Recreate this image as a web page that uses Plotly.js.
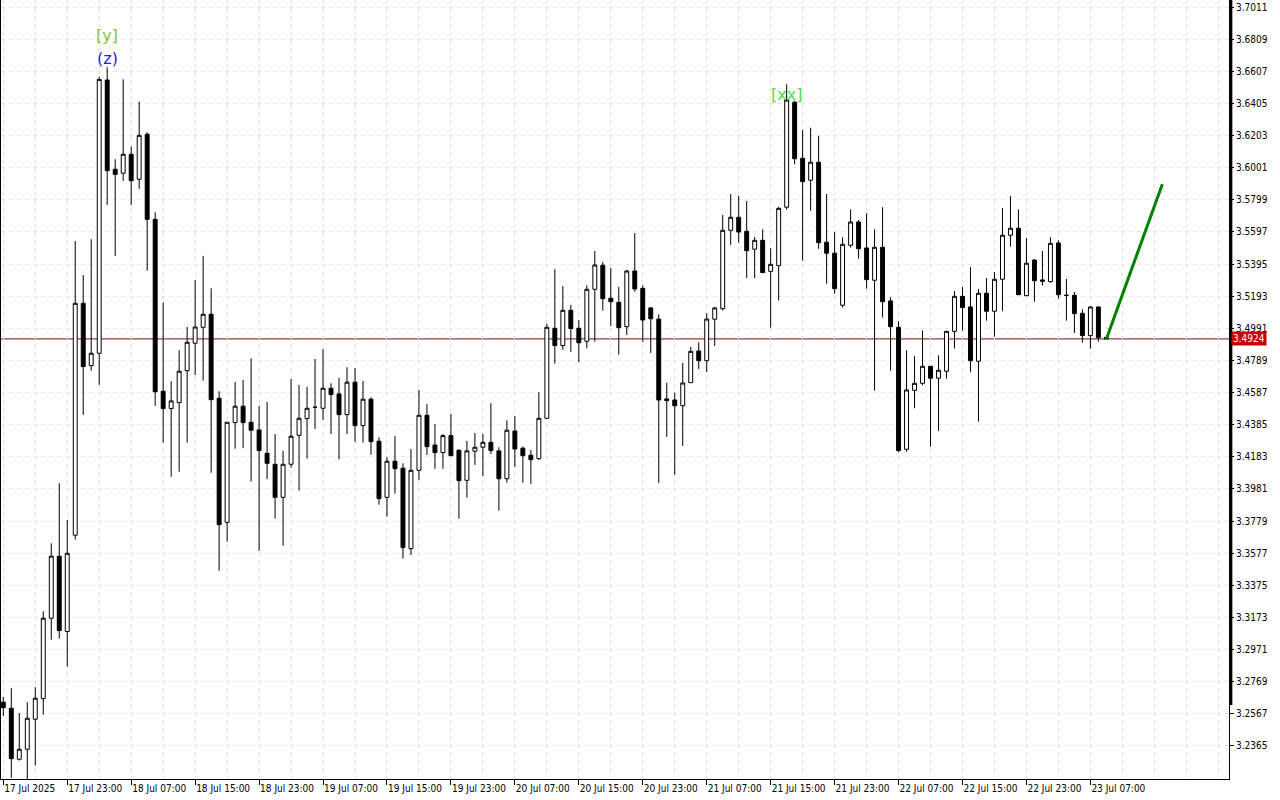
<!DOCTYPE html>
<html>
<head>
<meta charset="utf-8">
<script src="https://cdn.plot.ly/plotly-3.0.1.min.js"></script>
<style>
html,body{margin:0;padding:0;background:#fff;}
#chart{width:1280px;height:800px;}
</style>
</head>
<body>
<div id="chart"></div>
<script>
// Hourly candles starting 17 Jul 2025 15:00
const startTime = '2025-07-17T15:00:00Z';

const opens = [3.2640,3.2602,3.2281,3.2344,3.2533,3.2662,3.3168,3.3558,3.3084,3.3690,
3.5148,3.4756,3.4834,3.6552,3.5991,3.5966,3.6085,3.5928,3.6211,3.5676,
3.4595,3.4486,3.4523,3.4724,3.4897,3.4997,3.5079,3.4551,3.3771,3.4398,
3.4501,3.4400,3.4352,3.4205,3.4136,3.3928,3.4136,3.4318,3.4423,3.4494,
3.4488,3.4614,3.4578,3.4448,3.4652,3.4379,3.4545,3.4281,3.3928,3.4155,
3.4111,3.3605,3.4098,3.4444,3.4257,3.4209,3.4316,3.4224,3.4035,3.4218,
3.4243,3.4274,3.4220,3.4045,3.4345,3.4237,3.4193,3.4171,3.4425,3.4991,
3.4882,3.5104,3.4991,3.4909,3.5236,3.5387,3.5180,3.5154,3.5001,3.5351,
3.5242,3.5119,3.5049,3.4547,3.4540,3.4504,3.4649,3.4848,3.4787,3.5048,
3.5114,3.5607,3.5689,3.5601,3.5488,3.5544,3.5349,3.5385,3.5752,3.6412,
3.6060,3.5922,3.6035,3.5532,3.5463,3.5136,3.5513,3.5659,3.5496,3.5293,
3.5500,3.5163,3.4997,3.4230,3.4601,3.4645,3.4752,3.4677,3.4721,3.4972,
3.5192,3.5125,3.4784,3.5211,3.5098,3.5299,3.5576,3.5620,3.5196,3.5420,
3.5295,3.5284,3.5527,3.5198,3.5198,3.5085,3.4945,3.5125,3.4934];

const highs = [3.2673,3.2728,3.2571,3.2640,3.2734,3.3212,3.3639,3.4017,3.3786,3.5540,
3.5326,3.5551,3.6573,3.6632,3.6054,3.6556,3.6133,3.6416,3.6223,3.5720,
3.5154,3.4658,3.4853,3.4999,3.5295,3.5446,3.5242,3.4595,3.4400,3.4653,
3.4666,3.4802,3.4503,3.4528,3.4326,3.4220,3.4672,3.4635,3.4622,3.4798,
3.4861,3.4645,3.4679,3.4746,3.4741,3.4660,3.4557,3.4306,3.4180,3.4314,
3.4142,3.4232,3.4603,3.4515,3.4389,3.4325,3.4452,3.4230,3.4282,3.4333,
3.4326,3.4520,3.4243,3.4413,3.4440,3.4247,3.4226,3.4589,3.5018,3.5362,
3.5257,3.5138,3.5043,3.5261,3.5477,3.5408,3.5370,3.5251,3.5358,3.5590,
3.5261,3.5125,3.5079,3.4649,3.4586,3.4773,3.4873,3.4903,3.5085,3.5125,
3.5703,3.5835,3.5823,3.5791,3.5565,3.5613,3.5494,3.5754,3.6525,3.6420,
3.6238,3.6252,3.6200,3.5835,3.5596,3.5563,3.5739,3.5672,3.5714,3.5613,
3.5752,3.5186,3.5035,3.4853,3.4817,3.4978,3.4752,3.4821,3.4972,3.5226,
3.5251,3.5376,3.5238,3.5307,3.5345,3.5747,3.5823,3.5739,3.5559,3.5425,
3.5477,3.5563,3.5544,3.5301,3.5219,3.5110,3.5131,3.5127,3.4934];

const lows = [3.2553,3.2164,3.2273,3.2157,3.2241,3.2562,3.3033,3.3040,3.2864,3.3662,
3.4446,3.4724,3.4636,3.5766,3.5446,3.5917,3.5766,3.5867,3.5353,3.4503,
3.4272,3.4058,3.4089,3.4272,3.4697,3.4662,3.4083,3.3467,3.3649,3.4234,
3.4237,3.4027,3.3591,3.4042,3.3794,3.3624,3.4115,3.3970,3.4171,3.4358,
3.4415,3.4326,3.4167,3.4326,3.4278,3.4272,3.4196,3.3882,3.3807,3.3951,
3.3543,3.3566,3.4037,3.4194,3.4108,3.4108,3.4190,3.3794,3.3926,3.4132,
3.4062,3.4201,3.3844,3.4020,3.4119,3.4020,3.4012,3.4163,3.4425,3.4768,
3.4855,3.4842,3.4779,3.4865,3.4907,3.5102,3.5005,3.4825,3.4949,3.5221,
3.4905,3.4836,3.4018,3.4308,3.4069,3.4251,3.4649,3.4735,3.4716,3.4880,
3.5102,3.5515,3.5529,3.5307,3.5307,3.5341,3.4995,3.5165,3.5737,3.6022,
3.5416,3.5730,3.5491,3.5271,3.5209,3.5121,3.5498,3.5429,3.5240,3.4599,
3.5058,3.4724,3.4211,3.4215,3.4488,3.4633,3.4247,3.4345,3.4674,3.4863,
3.4976,3.4714,3.4404,3.5039,3.4938,3.5098,3.5504,3.5202,3.5196,3.5158,
3.5259,3.5278,3.5177,3.5039,3.4961,3.4900,3.4863,3.4907,3.4924];

const closes = [3.2606,3.2285,3.2344,3.2539,3.2665,3.3168,3.3558,3.3090,3.3576,3.5148,
3.4750,3.4834,3.6556,3.5982,3.5959,3.6085,3.5919,3.6204,3.5676,3.4592,
3.4486,3.4534,3.4721,3.4903,3.4999,3.5079,3.4542,3.3756,3.4400,3.4501,
3.4398,3.4350,3.4222,3.4142,3.3928,3.4136,3.4312,3.4425,3.4488,3.4494,
3.4614,3.4574,3.4448,3.4652,3.4379,3.4545,3.4278,3.3920,3.4155,3.4108,
3.3612,3.4098,3.4444,3.4247,3.4209,3.4316,3.4190,3.4033,3.4220,3.4243,
3.4274,3.4222,3.4045,3.4350,3.4232,3.4190,3.4165,3.4425,3.4997,3.4882,
3.5104,3.4989,3.4900,3.5236,3.5389,3.5177,3.5158,3.4995,3.5351,3.5238,
3.5043,3.5051,3.4540,3.4536,3.4504,3.4647,3.4846,3.4787,3.5049,3.5119,
3.5607,3.5689,3.5596,3.5479,3.5544,3.5341,3.5393,3.5745,3.6426,3.6057,
3.5913,3.6035,3.5529,3.5463,3.5240,3.5519,3.5659,3.5491,3.5297,3.5500,
3.5158,3.5001,3.4222,3.4603,3.4645,3.4752,3.4677,3.4727,3.4972,3.5192,
3.5121,3.4787,3.5211,3.5098,3.5299,3.5576,3.5620,3.5202,3.5400,3.5290,
3.5287,3.5525,3.5202,3.5198,3.5083,3.4945,3.5125,3.4932,3.4924];

// Projection line (green)
const projTimes = ['2025-07-23 09:00', '2025-07-23 16:00'];
const projPrices = [3.4924, 3.5897];

const lastPrice = 3.4924;

// Axis ticks
const xTickVals = ['2025-07-17 15:00','2025-07-17 23:00','2025-07-18 07:00','2025-07-18 15:00',
'2025-07-18 23:00','2025-07-19 07:00','2025-07-19 15:00','2025-07-19 23:00','2025-07-20 07:00',
'2025-07-20 15:00','2025-07-20 23:00','2025-07-21 07:00','2025-07-21 15:00','2025-07-21 23:00',
'2025-07-22 07:00','2025-07-22 15:00','2025-07-22 23:00','2025-07-23 07:00'];
const xTickText = ['17 Jul 2025','17 Jul 23:00','18 Jul 07:00','18 Jul 15:00','18 Jul 23:00',
'19 Jul 07:00','19 Jul 15:00','19 Jul 23:00','20 Jul 07:00','20 Jul 15:00','20 Jul 23:00',
'21 Jul 07:00','21 Jul 15:00','21 Jul 23:00','22 Jul 07:00','22 Jul 15:00','22 Jul 23:00','23 Jul 07:00'];
const yTickVals = [3.2365,3.2567,3.2769,3.2971,3.3173,3.3375,3.3577,3.3779,3.3981,3.4183,
3.4385,3.4587,3.4789,3.4991,3.5193,3.5395,3.5597,3.5799,3.6001,3.6203,3.6405,3.6607,3.6809,3.7011];

// Text marks
const markTexts = ['[y]', '(z)', '[xx]'];
const markTimes = ['2025-07-18 04:00', '2025-07-18 04:00', '2025-07-21 17:00'];
const markPrices = [3.6829, 3.6690, 3.6464];
const markColors = ['#7cc832', '#1e1ee6', '#4fd84f'];

function hourStr(i) {
  const d = new Date(Date.parse(startTime) + i * 3600000);
  const p = n => String(n).padStart(2, '0');
  return d.getUTCFullYear() + '-' + p(d.getUTCMonth() + 1) + '-' + p(d.getUTCDate()) + ' ' + p(d.getUTCHours()) + ':00';
}
const times = opens.map((_, i) => hourStr(i));

const FONT = '"DejaVu Sans Condensed", "DejaVu Sans", "Liberation Sans", sans-serif';
const GRID = '#e3e3e3';

const traces = [
  {
    type: 'candlestick',
    x: times, open: opens, high: highs, low: lows, close: closes,
    increasing: {line: {color: '#000000', width: 1}, fillcolor: '#ffffff'},
    decreasing: {line: {color: '#000000', width: 1}, fillcolor: '#000000'},
    whiskerwidth: 0,
    hoverinfo: 'skip'
  },
  {
    type: 'scatter', mode: 'lines',
    x: projTimes, y: projPrices,
    line: {color: '#008000', width: 3},
    hoverinfo: 'skip'
  }
];

const annotations = markTexts.map((t, k) => ({
  x: markTimes[k], y: markPrices[k], xref: 'x', yref: 'y',
  text: t, showarrow: false,
  font: {family: '"DejaVu Sans", sans-serif', size: 16, color: markColors[k]},
  xanchor: 'center', yanchor: 'middle'
}));
annotations.push({
  x: 1, xref: 'paper', y: lastPrice, yref: 'y',
  text: lastPrice.toFixed(4), showarrow: false,
  xanchor: 'left', yanchor: 'middle', xshift: 2,
  bgcolor: '#c80000', borderpad: 1,
  font: {family: FONT, size: 10, color: '#ffffff'}
});

const layout = {
  width: 1280, height: 800,
  margin: {l: 1, r: 51, t: 0, b: 21, pad: 0},
  paper_bgcolor: '#ffffff', plot_bgcolor: '#ffffff',
  showlegend: false,
  hovermode: false,
  boxgap: 0.3,
  xaxis: {
    type: 'date',
    range: ['2025-07-17 14:42:45', '2025-07-24 00:20:24'],
    rangeslider: {visible: false},
    tickmode: 'array', tickvals: xTickVals, ticktext: xTickText,
    ticks: 'outside', ticklen: 5, tickcolor: '#000000', tickwidth: 1,
    ticklabelposition: 'outside right',
    tickfont: {family: FONT, size: 10, color: '#000000'},
    showgrid: true, gridcolor: GRID, griddash: '4px,4px', gridwidth: 1,
    minor: {tickmode: 'linear', tick0: '2025-07-17 15:00', dtick: 4 * 3600000,
            showgrid: true, gridcolor: GRID, griddash: '4px,4px', gridwidth: 1, ticks: ''},
    showline: true, linecolor: '#000000', linewidth: 1, mirror: true,
    zeroline: false, fixedrange: true
  },
  yaxis: {
    side: 'right',
    range: [3.2157, 3.7055],
    tickmode: 'array', tickvals: yTickVals,
    ticktext: yTickVals.map(v => v.toFixed(4)),
    ticks: 'outside', ticklen: 4, tickcolor: '#000000', tickwidth: 1,
    tickfont: {family: FONT, size: 10, color: '#000000'},
    showgrid: true, gridcolor: GRID, griddash: '4px,4px', gridwidth: 1,
    showline: true, linecolor: '#000000', linewidth: 1, mirror: true,
    zeroline: false, fixedrange: true
  },
  shapes: [
    {type: 'line', xref: 'paper', x0: 0, x1: 1, yref: 'y', y0: lastPrice, y1: lastPrice,
     line: {color: '#7a0a0a', width: 1}, layer: 'below'},
    {type: 'line', xref: 'paper', x0: 1.0015, x1: 1.0015, yref: 'paper', y0: 0.095, y1: 1,
     line: {color: '#000000', width: 3}}
  ],
  annotations: annotations
};

Plotly.newPlot('chart', traces, layout, {displayModeBar: false, staticPlot: true});
</script>
</body>
</html>
